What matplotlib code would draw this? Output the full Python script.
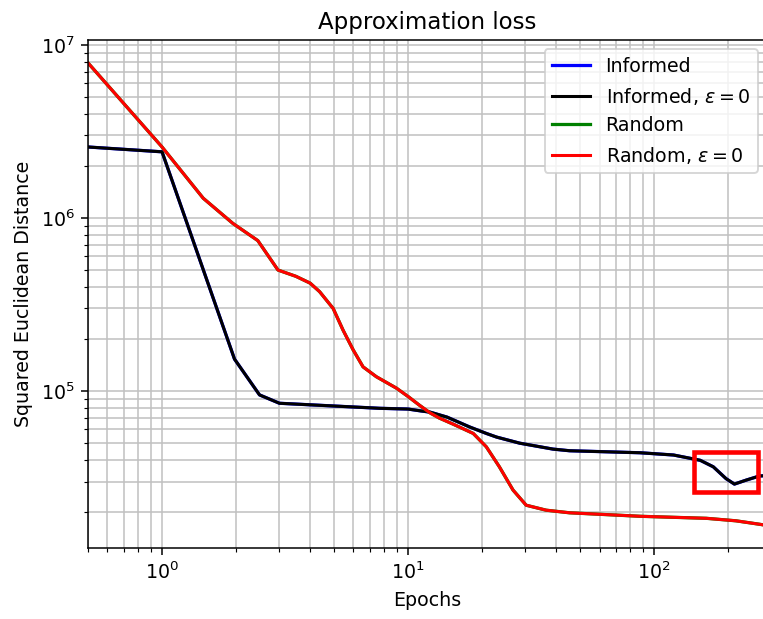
import matplotlib
matplotlib.use("Agg")
import matplotlib.pyplot as plt
from matplotlib.patches import Rectangle

# Loss curves, read as (epoch, squared euclidean distance)
informed_epochs = [0.5, 1.0, 1.97, 2.49, 3.0, 7.65, 10.0, 11.1, 12.3, 14.4, 17.8, 20.8, 22.9, 28.4,
                   38.8, 45.3, 87.9, 120, 154, 174, 196, 212, 237, 268, 290]
informed_loss   = [2.57e6, 2.41e6, 1.53e5, 9.5e4, 8.5e4, 7.95e4, 7.87e4, 7.7e4, 7.55e4, 7.07e4, 6.2e4,
                   5.69e4, 5.42e4, 5.0e4, 4.62e4, 4.52e4, 4.4e4, 4.27e4, 3.98e4, 3.65e4, 3.12e4,
                   2.9e4, 3.06e4, 3.23e4, 3.25e4]

random_epochs = [0.5, 1.0, 1.47, 1.94, 2.45, 2.96, 3.5, 4.0, 4.37, 4.96, 5.44, 5.98, 6.56, 7.43, 8.96,
                 10.0, 11.1, 12.3, 13.4, 15.2, 18.4, 20.8, 23.5, 26.7, 30.2, 36.4, 45.3, 87.9, 163,
                 215, 268, 290]
random_loss   = [7.87e6, 2.57e6, 1.3e6, 9.3e5, 7.4e5, 5.0e5, 4.6e5, 4.2e5, 3.75e5, 3.0e5, 2.25e5,
                 1.73e5, 1.38e5, 1.21e5, 1.04e5, 9.3e4, 8.3e4, 7.47e4, 6.98e4, 6.45e4, 5.69e4, 4.76e4,
                 3.65e4, 2.68e4, 2.19e4, 2.05e4, 1.98e4, 1.89e4, 1.84e4, 1.78e4, 1.7e4, 1.67e4]

# Region of interest around the late dip of the informed run
roi_x = (145, 265)
roi_y = (2.61e4, 4.47e4)


def main():
    fig = plt.figure(figsize=(5.57, 4.52), dpi=137)
    ax = fig.add_axes([0.1153, 0.1147, 0.89, 0.8207])

    ax.plot(informed_epochs, informed_loss, color="blue", lw=1.7, label="Informed")
    ax.plot(informed_epochs, informed_loss, color="black", lw=1.6, label=r"Informed, $\varepsilon = 0$")
    ax.plot(random_epochs, random_loss, color="green", lw=1.7, label="Random")
    ax.plot(random_epochs, random_loss, color="red", lw=1.6, label=r"Random, $\varepsilon = 0$")

    ax.add_patch(Rectangle((roi_x[0], roi_y[0]), roi_x[1] - roi_x[0], roi_y[1] - roi_y[0],
                           fill=False, edgecolor="red", lw=2.4, zorder=5))

    ax.set_xscale("log")
    ax.set_yscale("log")
    ax.set_xlim(0.5, 288)
    ax.set_ylim(1.24e4, 1.07e7)
    ax.grid(True, which="both", color="#c0c0c0", lw=0.8)
    ax.set_title("Approximation loss")
    ax.set_xlabel("Epochs")
    ax.set_ylabel("Squared Euclidean Distance")
    ax.legend(loc="upper right")

    fig.savefig("out.png", dpi=137)
    plt.close(fig)


if __name__ == "__main__":
    main()
